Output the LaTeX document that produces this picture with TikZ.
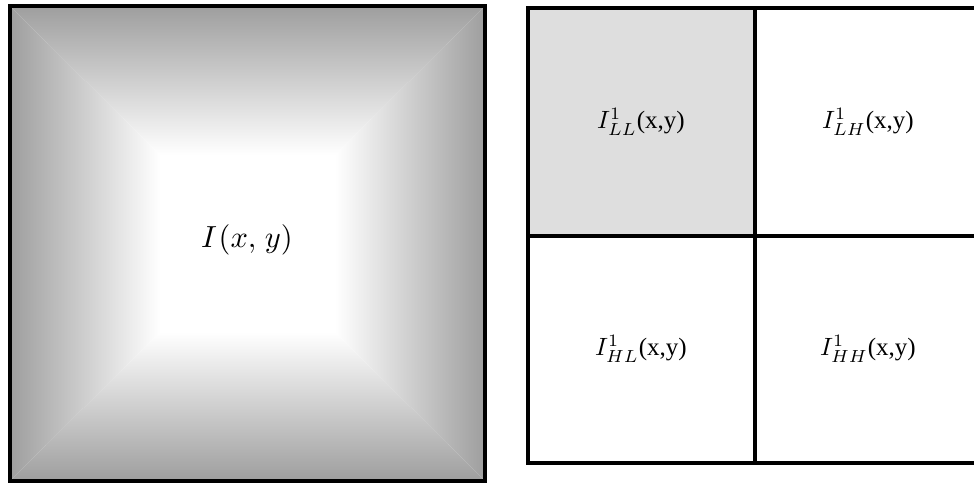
\documentclass[tikz,border=0pt]{standalone}
\usepackage{fontspec}
\newfontfamily\rmlab{Liberation Serif}
\begin{document}
\begin{tikzpicture}[x=1pt,y=-1pt,
  frame/.style={line width=4pt,draw=black},
  gridline/.style={line width=4pt,draw=black},
  lab/.style={font=\fontsize{10}{12}\selectfont,scale=2.5},
  biglab/.style={font=\fontsize{10}{12}\selectfont,scale=3.05}]
\useasboundingbox (0,0) rectangle (974,483);
% left shaded square
\coordinate (A) at (10,6);
\coordinate (B) at (485,6);
\coordinate (C) at (485,481);
\coordinate (D) at (10,481);
\coordinate (a) at (160,155);
\coordinate (b) at (335,155);
\coordinate (c) at (335,332);
\coordinate (d) at (160,332);
\fill[white] (a) rectangle (c);
\shade[top color=black!38,middle color=black!14,bottom color=white] (A) -- (B) -- (b) -- (a) -- cycle;
\shade[bottom color=black!38,middle color=black!14,top color=white] (D) -- (C) -- (c) -- (d) -- cycle;
\shade[left color=black!38,middle color=black!14,right color=white] (A) -- (a) -- (d) -- (D) -- cycle;
\shade[right color=black!38,middle color=black!14,left color=white] (B) -- (b) -- (c) -- (C) -- cycle;
\draw[frame] (A) rectangle (C);
\node[biglab] (img) at (247,240) {$I\mkern1mu(x,\mkern2mu y)$};
% right grid
\coordinate (G1) at (528,8);
\coordinate (G2) at (982,462.5);
\fill[black!13] (528,8) rectangle (755,235.5);
\draw[gridline] (G1) rectangle (G2);
\draw[gridline] (755,8) -- (755,462.5);
\draw[gridline] (528,235.5) -- (982,235.5);
\node[lab] (ll) at (641,122) {$I^1_{LL}$\rmlab(x,y)};
\node[lab] (lh) at (868,122) {$I^1_{LH}$\rmlab(x,y)};
\node[lab] (hl) at (641,349) {$I^1_{HL}$\rmlab(x,y)};
\node[lab] (hh) at (868,349) {$I^1_{HH}$\rmlab(x,y)};
\end{tikzpicture}
\end{document}
